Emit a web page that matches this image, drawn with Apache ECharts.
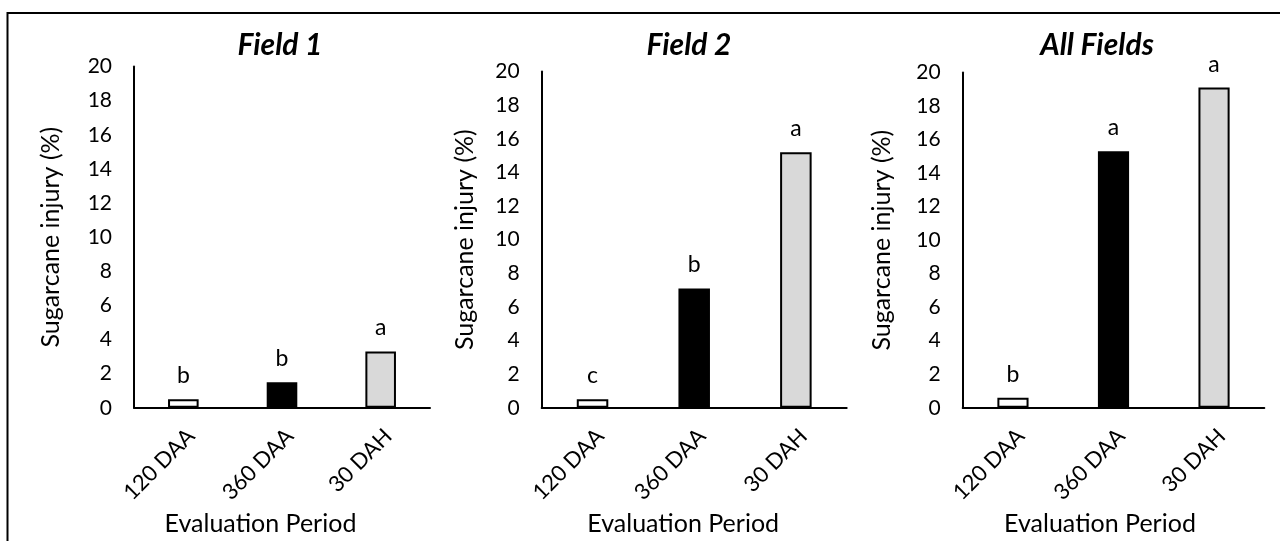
<!DOCTYPE html>
<html>
<head>
<meta charset="utf-8">
<script src="https://cdn.jsdelivr.net/npm/echarts@6/dist/echarts.min.js"></script>
<style>
  html, body { margin: 0; padding: 0; background: #fff; }
  #chart { width: 1280px; height: 541px; }
</style>
</head>
<body>
<div id="chart"></div>
<script>
// Evaluation periods shown on every panel
const categories = ['120 DAA', '360 DAA', '30 DAH'];

// Sugarcane injury (%) per field
const field1 = [0.5, 1.5, 3.3];
const field2 = [0.5, 7.1, 15.2];
const allFields = [0.6, 15.3, 19.1];

// Mean-separation letters printed above each bar
const letters1 = ['b', 'b', 'a'];
const letters2 = ['c', 'b', 'a'];
const lettersAll = ['b', 'a', 'a'];

// Panel titles
const panelTitles = ['Field 1', 'Field 2', 'All Fields'];

// Y scale
const yMin = 0;
const yMax = 20;
const yStep = 2;

const FONT = 'Lato';
const barFills = ['#ffffff', '#000000', '#d9d9d9'];

const panels = [
  { values: field1, letters: letters1, grid: { left: 134, right: 850, top: 66.5, bottom: 129 }, titleX: 280, nameGapY: 71, namePadR: 43 },
  { values: field2, letters: letters2, grid: { left: 541.7, right: 433.3, top: 71.5, bottom: 128.5 }, titleX: 689, nameGapY: 64, namePadR: 22 },
  { values: allFields, letters: lettersAll, grid: { left: 962.7, right: 15.7, top: 72.5, bottom: 130 }, titleX: 1097, nameGapY: 68, namePadR: 27 }
];

const option = {
  animation: false,
  backgroundColor: '#ffffff',
  title: panels.map((p, i) => ({
    text: panelTitles[i],
    left: p.titleX,
    top: 30,
    textAlign: 'center',
    padding: 0,
    textStyle: { fontFamily: FONT, fontSize: 30, fontWeight: 'bold', fontStyle: 'italic', color: '#000' }
  })),
  grid: panels.map(p => Object.assign({ containLabel: false }, p.grid)),
  xAxis: panels.map((p, i) => ({
    type: 'category',
    gridIndex: i,
    data: categories,
    name: 'Evaluation Period',
    nameLocation: 'middle',
    nameGap: 102,
    nameTextStyle: { fontFamily: FONT, fontSize: 25, color: '#000', padding: [0, p.namePadR, 0, 0] },
    axisLine: { lineStyle: { color: '#000', width: 2 } },
    axisTick: { show: false },
    axisLabel: {
      rotate: 45,
      margin: 17,
      verticalAlign: 'top',
      interval: 0,
      fontFamily: FONT,
      fontSize: 22,
      color: '#000'
    },
    splitLine: { show: false }
  })),
  yAxis: panels.map((p, i) => ({
    type: 'value',
    gridIndex: i,
    min: yMin,
    max: yMax,
    interval: yStep,
    name: 'Sugarcane injury (%)',
    nameLocation: 'middle',
    nameGap: p.nameGapY,
    nameTextStyle: { fontFamily: FONT, fontSize: 25, color: '#000' },
    axisLine: { show: true, lineStyle: { color: '#000', width: 2 } },
    axisTick: { show: false },
    axisLabel: { margin: 22, fontFamily: FONT, fontSize: 21, color: '#000' },
    splitLine: { show: false }
  })),
  series: panels.map((p, i) => ({
    type: 'bar',
    xAxisIndex: i,
    yAxisIndex: i,
    barWidth: '31%',
    data: p.values.map((v, j) => ({
      value: v,
      itemStyle: { color: barFills[j], borderColor: '#000', borderWidth: 2 }
    })),
    label: {
      show: true,
      position: 'top',
      distance: 12,
      fontFamily: FONT,
      fontSize: 23,
      color: '#000',
      formatter: params => p.letters[params.dataIndex]
    }
  })),
  graphic: [
    {
      type: 'rect',
      shape: { x: 7.5, y: 13, width: 1300, height: 600 },
      style: { fill: 'none', stroke: '#000', lineWidth: 2 },
      silent: true
    }
  ]
};

const chart = echarts.init(document.getElementById('chart'), null, { renderer: 'canvas' });
chart.setOption(option);
</script>
</body>
</html>
